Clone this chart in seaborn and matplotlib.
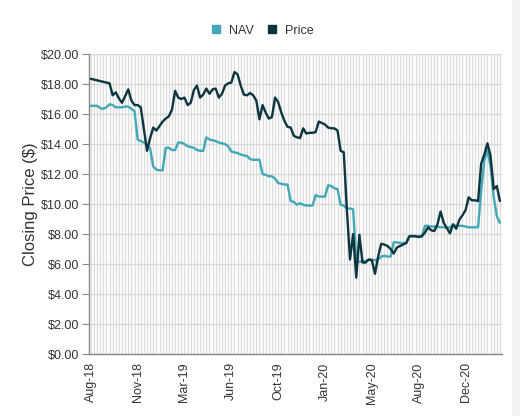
import pandas as pd
import seaborn as sns
import matplotlib.pyplot as plt
from matplotlib.lines import Line2D
from matplotlib.patches import Rectangle
from matplotlib.ticker import FuncFormatter, MultipleLocator

# weekly closing values, first week 2018-08-17
start_date = '2018-08-17'
price = [18.35, 18.3, 18.25, 18.2, 18.15, 18.1, 18.05, 17.25, 17.45, 17.05,
         16.75, 17.2, 17.65, 16.9, 16.6, 16.6, 16.45, 15.0, 13.55, 14.4,
         15.1, 14.9, 15.2, 15.5, 15.7, 15.85, 16.3, 17.55, 17.1, 17.0,
         17.1, 16.6, 16.75, 17.6, 17.9, 17.1, 17.3, 17.7, 17.35, 17.65,
         17.7, 17.1, 17.35, 17.9, 18.05, 18.1, 18.8, 18.65, 17.9, 17.3,
         17.25, 17.4, 17.25, 16.9, 15.65, 16.6, 16.1, 15.7, 15.8, 17.1,
         16.8, 16.1, 15.55, 15.15, 15.1, 14.55, 14.45, 14.4, 15.05, 14.7,
         14.75, 14.75, 14.8, 15.5, 15.4, 15.3, 15.1, 15.05, 15.05, 14.9,
         13.55, 13.45, 9.6, 6.3, 8.0, 5.1, 7.95, 6.1, 6.1, 6.3,
         6.25, 5.35, 6.5, 7.35, 7.3, 7.2, 7.0, 6.7, 7.1, 7.2,
         7.3, 7.4, 7.85, 7.85, 7.85, 7.8, 7.85, 8.1, 8.45, 8.25,
         8.2, 8.65, 9.5, 8.75, 8.4, 8.05, 8.65, 8.35, 8.95, 9.25,
         9.6, 10.45, 10.25, 10.25, 10.2, 12.7, 13.3, 14.05, 13.2, 11.0,
         11.2, 10.2]
nav = [16.55, 16.55, 16.55, 16.4, 16.35, 16.45, 16.65, 16.6, 16.45, 16.45,
       16.45, 16.5, 16.5, 16.35, 16.2, 14.3, 14.2, 14.1, 13.95, 13.7,
       12.5, 12.3, 12.25, 12.25, 13.75, 13.75, 13.6, 13.6, 14.1, 14.1,
       14.0, 13.85, 13.8, 13.75, 13.6, 13.55, 13.55, 14.45, 14.3, 14.25,
       14.2, 14.1, 14.05, 14.0, 13.85, 13.5, 13.45, 13.4, 13.3, 13.25,
       13.2, 13.0, 12.95, 12.95, 12.95, 12.0, 11.95, 11.85, 11.85, 11.7,
       11.4, 11.35, 11.3, 11.3, 10.2, 10.15, 9.95, 10.05, 9.95, 9.9,
       9.9, 9.9, 10.6, 10.5, 10.5, 10.5, 11.25, 11.2, 11.05, 11.0,
       9.95, 9.9, 9.7, 9.7, 9.65, 6.15, 6.15, 6.2, 6.2, 6.3,
       6.3, 6.25, 6.3, 6.5, 6.55, 6.5, 6.5, 7.45, 7.45, 7.4,
       7.4, 7.4, 7.85, 7.9, 7.85, 7.85, 7.85, 8.55, 8.55, 8.5,
       8.5, 8.5, 8.45, 8.45, 8.4, 8.45, 8.6, 8.55, 8.55, 8.55,
       8.5, 8.45, 8.45, 8.45, 8.45, 10.9, 12.9, 13.6, 12.5, 10.5,
       9.2, 8.75]
tick_every = 15
series_names = ['NAV', 'Price']
colors = ['#42a7b6', '#0c3540']

dates = pd.date_range(start_date, periods=len(price), freq='7D')
df = pd.DataFrame({'week': range(len(price)), 'NAV': nav, 'Price': price})
long_df = df.melt(id_vars='week', value_vars=series_names,
                  var_name='series', value_name='close')

sns.set_style('white')
plt.rcParams['font.family'] = ['Liberation Sans', 'DejaVu Sans']

fig = plt.figure(figsize=(5.2, 4.16), dpi=100)
ax = fig.add_axes([0.171, 0.149, 0.794, 0.721])

# vertical grid at every week, horizontal at every $2
for w in df['week']:
    ax.axvline(w, color='#dcdcdc', lw=0.9, zorder=0)
ax.yaxis.set_major_locator(MultipleLocator(2))
ax.grid(axis='y', color='#d9d9d9', lw=1.0, zorder=0)
ax.set_axisbelow(True)

sns.lineplot(data=long_df, x='week', y='close', hue='series',
             hue_order=series_names, palette=colors, lw=1.7,
             legend=False, ax=ax, zorder=3)

ax.set_xlim(-0.6, len(price) - 0.4)
ax.set_ylim(0, 20)
ax.yaxis.set_major_formatter(FuncFormatter(lambda v, p: f'${v:.2f}'))
ax.set_xticks(list(df['week']))
ax.set_xticklabels([d.strftime('%b-%y') if i % tick_every == 0 else ''
                    for i, d in enumerate(dates)], rotation=90)
ax.tick_params(axis='x', length=4, width=0.8, color='#888888',
               labelsize=9, labelcolor='#333333', pad=2)
ax.tick_params(axis='y', length=5, width=0.8, color='#888888',
               labelsize=9, labelcolor='#333333', pad=2, left=True)

for side in ['top', 'right']:
    ax.spines[side].set_visible(False)
for side in ['left', 'bottom']:
    ax.spines[side].set_color('#888888')
    ax.spines[side].set_linewidth(1.0)

ax.set_xlabel('')
ax.set_ylabel('Closing Price ($)', fontsize=12, color='#333333', labelpad=2)

handles = [Line2D([], [], ls='', marker='s', markersize=6, color=c) for c in colors]
fig.legend(handles, series_names, loc='center', bbox_to_anchor=(0.497, 0.926),
           ncol=2, frameon=False, fontsize=9, handletextpad=0.05,
           columnspacing=0.4, labelcolor='#333333')

fig.patches.append(Rectangle((0.984, 0), 0.016, 1, transform=fig.transFigure,
                             color='#f3f3f3', zorder=-1))

fig.savefig('out.png', dpi=100)
